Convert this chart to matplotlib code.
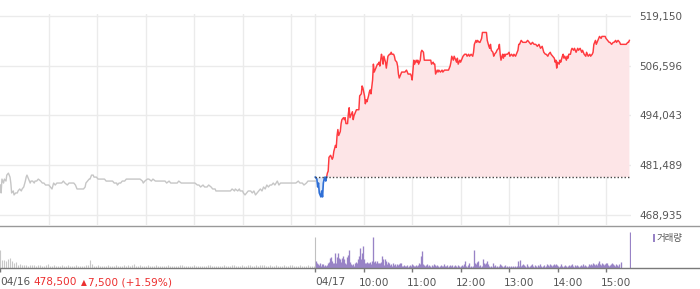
import matplotlib
matplotlib.use("Agg")
import matplotlib.pyplot as plt
import matplotlib.transforms as mtrans
from matplotlib.lines import Line2D
from matplotlib.patches import Rectangle
import numpy as np

plt.rcParams['font.family'] = ['DejaVu Sans', 'Noto Sans CJK KR']

# --- data (minutes since 04/16 09:00 on a compressed two-session axis) ---
prev_close = 478500

day1_min = [0, 1, 2, 4, 5, 7, 8, 10, 12, 13, 14, 16, 17, 19, 21, 22, 24, 26, 27, 29,
            31, 32, 33, 35, 37, 38, 40, 42, 43, 45, 47, 50, 52, 54, 56, 58, 60, 62, 64, 66,
            68, 70, 72, 74, 76, 78, 80, 83, 85, 87, 89, 91, 93, 95, 97, 99, 101, 103, 105, 106,
            108, 110, 111, 113, 115, 116, 119, 121, 124, 126, 129, 131, 134, 136, 139, 141, 144, 145, 147, 149,
            151, 154, 156, 158, 161, 163, 166, 168, 171, 173, 176, 177, 179, 182, 184, 187, 189, 192, 194, 196,
            199, 201, 204, 206, 209, 211, 214, 216, 219, 221, 224, 226, 229, 231, 234, 236, 239, 241, 244, 246,
            248, 251, 253, 256, 258, 261, 263, 266, 267, 270, 272, 275, 277, 280, 282, 285, 287, 290, 291, 294,
            296, 297, 300, 301, 303, 305, 307, 310, 312, 314, 316, 318, 320, 322, 324, 326, 328, 330, 332, 334,
            336, 338, 340, 343, 345, 347, 349, 352, 354, 357, 359, 361, 364, 366, 369, 371, 374, 376, 379, 381,
            384, 386, 389, 390]
day1_price = [476500, 474500, 478000, 477000, 478000, 477500, 479000, 479500, 478500, 477000,
              474500, 475000, 474000, 474500, 474500, 475000, 475500, 475000, 475500, 476000,
              477500, 478500, 479000, 478000, 477000, 477500, 477500, 477000, 477500, 477500,
              478000, 477500, 477000, 477000, 476500, 476500, 476500, 476000, 475500, 477000,
              476500, 477000, 477000, 477000, 477000, 477500, 477000, 476500, 477000, 477000,
              477000, 477000, 476500, 475500, 475500, 475500, 475500, 475500, 476000, 477000,
              477500, 478000, 478000, 479000, 479000, 478500, 478500, 478000, 478000, 478000,
              478000, 477500, 477500, 477500, 477500, 477000, 477000, 476500, 477000, 477000,
              477500, 477500, 478000, 478000, 478000, 478000, 478000, 478000, 478000, 478000,
              477500, 477000, 477500, 478000, 478000, 477500, 478000, 477500, 477500, 477500,
              477500, 477500, 477500, 477000, 477500, 477000, 477000, 477000, 477000, 477500,
              477000, 477000, 477000, 477000, 477000, 477000, 477000, 477000, 476500, 476500,
              476000, 476500, 476000, 476000, 476500, 476000, 475500, 475500, 475000, 475000,
              475000, 475000, 475000, 475000, 475000, 475000, 475500, 475000, 475500, 475000,
              475500, 475000, 475000, 474500, 474000, 474500, 475000, 475000, 474500, 475000,
              474000, 474500, 475000, 475500, 475000, 476000, 475500, 476500, 476000, 476500,
              476500, 477000, 476500, 477500, 476500, 477000, 477000, 477000, 477000, 477000,
              477000, 477000, 477000, 477000, 477500, 477000, 477000, 476500, 477000, 477500,
              477500, 477500, 477500, 477500]

day2_min = [390, 392, 393, 394, 395, 397, 398, 399, 400, 401, 402, 403, 404, 405, 406, 407, 409, 411, 412, 413,
            415, 416, 417, 418, 419, 421, 422, 423, 425, 426, 427, 428, 430, 431, 432, 433, 435, 436, 437, 438,
            440, 441, 442, 444, 445, 447, 448, 449, 451, 452, 453, 454, 456, 457, 458, 459, 461, 462, 463, 464,
            466, 467, 468, 469, 470, 472, 473, 474, 475, 477, 478, 479, 480, 482, 483, 484, 485, 487, 488, 489,
            491, 492, 493, 494, 496, 497, 499, 501, 503, 504, 505, 506, 508, 509, 510, 511, 512, 513, 515, 516,
            517, 518, 520, 521, 522, 524, 525, 527, 529, 531, 533, 534, 536, 537, 538, 539, 541, 542, 543, 545,
            547, 548, 550, 552, 553, 555, 557, 558, 559, 561, 562, 564, 565, 566, 567, 569, 570, 572, 573, 575,
            577, 578, 580, 581, 583, 585, 586, 587, 589, 590, 591, 593, 594, 596, 597, 599, 600, 602, 603, 605,
            606, 607, 608, 610, 611, 612, 614, 615, 617, 618, 619, 620, 622, 623, 624, 625, 626, 628, 630, 631,
            633, 635, 636, 638, 640, 641, 642, 643, 645, 647, 648, 651, 653, 655, 657, 659, 661, 663, 665, 667,
            669, 671, 673, 675, 676, 678, 679, 681, 682, 684, 686, 687, 688, 689, 690, 692, 693, 694, 696, 697,
            698, 699, 701, 702, 703, 704, 706, 707, 708, 710, 711, 713, 715, 716, 718, 720, 721, 723, 725, 726,
            728, 730, 731, 733, 734, 735, 737, 738, 739, 740, 742, 744, 745, 747, 749, 750, 752, 754, 755, 757,
            759, 760, 762, 763, 765, 767, 768, 770, 772, 775, 777, 778, 779]
day2_price = [478500, 478000, 476000, 477000, 474500, 473500, 475000, 473500, 477000, 478000,
              478500, 477500, 478500, 479500, 480000, 483500, 484000, 483000, 483500, 485000,
              486500, 486000, 489000, 490500, 489000, 490000, 492000, 493000, 493500, 493000,
              493500, 492000, 492000, 494500, 496000, 493500, 494500, 495000, 493000, 494000,
              495000, 495500, 495500, 495500, 499000, 499500, 501500, 501000, 499000, 497000,
              498000, 497500, 499000, 500000, 500500, 499500, 503000, 507000, 505000, 505500,
              506500, 507000, 507000, 507500, 506500, 509500, 508500, 507000, 509000, 507500,
              506000, 507500, 509000, 509500, 509500, 510000, 509500, 509500, 509000, 508000,
              507500, 506500, 504500, 503500, 504500, 505000, 505000, 505000, 505500, 505000,
              504500, 504500, 504500, 504000, 503000, 505500, 508000, 507000, 508000, 507500,
              508000, 507000, 508000, 510000, 510500, 510000, 508000, 508000, 508000, 508000,
              508000, 507000, 507500, 507000, 507000, 504500, 505500, 505000, 505500, 505000,
              505500, 505000, 505500, 505500, 505500, 505500, 506500, 507500, 509000, 508000,
              509000, 508000, 507500, 508500, 507000, 508000, 507500, 508500, 509000, 509500,
              509500, 509000, 509500, 509000, 509500, 509000, 510000, 512000, 513000, 512500,
              513000, 512500, 512500, 513500, 515000, 515000, 515000, 515000, 513000, 511500,
              511000, 512000, 510500, 510000, 509000, 509500, 510000, 510500, 511000, 512000,
              509500, 508000, 509500, 508500, 509500, 509000, 509500, 509500, 510000, 509000,
              509500, 509000, 509500, 509000, 510000, 510500, 512000, 512000, 513000, 512500,
              512500, 512500, 513000, 512500, 512000, 512500, 512000, 512000, 511500, 512000,
              511000, 511500, 510000, 509500, 509500, 509000, 509500, 510000, 509500, 509000,
              508500, 507500, 508000, 506000, 507500, 507000, 508000, 507500, 509000, 509500,
              508500, 509000, 508000, 509000, 508500, 509500, 509500, 510500, 511000, 510500,
              511000, 510000, 511000, 510500, 511000, 510000, 510500, 509500, 509000, 510000,
              509000, 509500, 509000, 509500, 510000, 512000, 513000, 512000, 512500, 513000,
              514000, 513500, 514000, 514000, 514000, 513500, 513000, 512500, 512500, 512000,
              512500, 512500, 513000, 512500, 513000, 512500, 512000, 512000, 512000, 512000,
              512500, 512500, 513000]

# volume (shares), continuous session bars
day1_vol = [5500, 2300, 2500, 2000, 2700, 3000, 2000, 1500, 1700, 1000, 1300, 1000, 800, 900, 700, 1000, 800, 900, 700, 800,
            1000, 700, 600, 800, 1300, 700, 600, 800, 700, 600, 700, 800, 600, 700, 900, 600, 700, 600, 800, 700,
            600, 700, 600, 800, 900, 2300, 1200, 700, 600, 800, 700, 600, 700, 600, 800, 700, 600, 700, 800, 600,
            700, 600, 800, 700, 900, 600, 1000, 1100, 700, 600, 800, 700, 600, 700, 800, 600, 700, 600, 800, 700,
            600, 500, 700, 600, 800, 700, 600, 500, 700, 600, 800, 900, 700, 600, 500, 700, 600, 800, 700, 600,
            700, 600, 500, 700, 900, 800, 600, 700, 600, 500, 700, 600, 800, 700, 600, 700, 800, 1000, 700, 600,
            700, 800, 600, 700, 900, 800, 700, 600, 800, 700, 900, 1000, 800, 700, 600, 800, 700, 600, 800, 700,
            600, 700, 800, 600, 700, 900, 800, 700, 600, 700, 800, 600, 700, 600, 800, 700, 600, 700]
day1_close_vol = 9300

day2_vol = [2100, 1600, 1100, 800, 1400, 600, 1100, 1100, 600, 800, 600, 800, 1600, 1800, 3100, 3400, 2100, 1600, 1400, 4600,
            1600, 3400, 4600, 3100, 2600, 1800, 3100, 3600, 2600, 1600, 1100, 3400, 3800, 5400, 1800, 1100, 800, 1100, 600, 1600,
            1800, 1400, 2800, 3600, 6100, 2800, 4600, 6600, 2800, 1600, 1400, 1800, 1600, 1400, 1800, 1100, 2100, 9300, 1800, 2100,
            1600, 2100, 1600, 1400, 1600, 1800, 3600, 2800, 800, 2600, 2100, 1100, 1800, 1600, 800, 1100, 600, 1400, 800, 1100,
            600, 1100, 800, 1100, 1400, 1600, 600, 600, 800, 600, 600, 800, 400, 600, 800, 600, 1100, 800, 600, 600,
            800, 600, 800, 1400, 1100, 3600, 5100, 1100, 800, 600, 800, 1100, 600, 800, 600, 400, 800, 600, 1100, 800,
            600, 800, 600, 400, 600, 800, 600, 600, 1100, 600, 600, 800, 400, 600, 800, 600, 800, 400, 600, 800,
            600, 400, 800, 600, 400, 600, 800, 600, 1100, 2100, 600, 400, 800, 1600, 400, 600, 400, 600,
            5400, 1600, 1100, 1800, 2100, 600, 800, 400, 600, 2600, 1400, 1100, 1600, 2100, 1100, 600, 400, 600, 400, 1400,
            600, 800, 400, 600, 400, 600, 1100, 800, 600, 400, 600, 800, 400, 600, 400, 600, 400, 600, 400, 600,
            400, 600, 400, 600, 2100, 600, 2400, 600, 800, 1100, 800, 600, 400, 1100, 600, 400, 600, 800, 1100, 600,
            400, 800, 600, 400, 800, 600, 1100, 600, 400, 600, 800, 400, 600, 1100, 800, 600, 1100, 800, 600, 800,
            1100, 800, 1100, 800, 600, 400, 600, 1100, 600, 400, 600, 800, 600, 400, 600, 800, 600, 800, 1100, 600,
            400, 800, 600, 800, 600, 400, 600, 800, 600, 1100, 600, 800, 600, 400, 600, 1100, 800, 1100, 800, 1400,
            1100, 800, 1100, 800, 1400, 2100, 1100, 800, 1400, 1100, 800, 1100, 1400, 1400, 800, 600, 800, 1100, 1400, 1100,
            800, 600, 1100, 800, 600, 1100, 1800]
day2_close_vol = 10800

y_ticks = [468935, 481489, 494043, 506596, 519150]
date_ticks = [0, 390]
date_labels = ['04/16', '04/17']
time_ticks = [450, 510, 570, 630, 690, 750]
time_labels = ['10:00', '11:00', '12:00', '13:00', '14:00', '15:00']
grid_x = [60, 120, 180, 240, 300, 360, 390, 450, 510, 570, 630, 690, 750]

W, H = 700, 289
fig = plt.figure(figsize=(7, 2.89), dpi=100)


def fx(px):
    return px / W


def fy(py):
    return 1 - py / H


xlim = (-0.4, 781)

# price panel
ax = fig.add_axes([0, fy(225), fx(631), (225 - 14) / H])
ax.set_xlim(*xlim)
ax.set_ylim(466412, 519655)
for s in ax.spines.values():
    s.set_visible(False)
ax.set_xticks(grid_x)
ax.set_yticks(y_ticks)
ax.set_yticklabels([f"{v:,}" for v in y_ticks])
ax.yaxis.tick_right()
ax.tick_params(axis='x', length=0, labelbottom=False)
ax.tick_params(axis='y', length=0, pad=6, labelsize=7.5, labelcolor='#555555')
ax.grid(True, color='#ebebeb', lw=1)
ax.set_axisbelow(True)

ax.plot(day1_min, day1_price, color='#c6c6c6', lw=1)

d2m = np.array(day2_min)
d2p = np.array(day2_price)
ax.fill_between(d2m, d2p, prev_close, where=d2p >= prev_close, interpolate=True,
                color='#fde5e7', lw=0)
ax.fill_between(d2m, d2p, prev_close, where=d2p <= prev_close, interpolate=True,
                color='#dce8f8', lw=0)
ax.plot(d2m[12:], d2p[12:], color='#ff3a3f', lw=1.05)
ax.plot(d2m[:13], d2p[:13], color='#2f6fd6', lw=1.2)
ax.hlines(prev_close, 390, xlim[1], colors='#444444', linestyles=(0, (1, 1.5)), lw=1)

# volume panel
axv = fig.add_axes([0, fy(268), fx(631), (268 - 226) / H])
axv.set_xlim(*xlim)
axv.set_ylim(0, 12600)
for s in axv.spines.values():
    s.set_visible(False)
axv.set_yticks([])
axv.set_xticks(date_ticks + time_ticks)
axv.set_xticklabels([])
axv.tick_params(axis='x', length=3, width=1, color='#777777', direction='out')

t1 = np.linspace(0, 388, len(day1_vol))
axv.vlines(t1, 0, day1_vol, colors='#c8c8c8', lw=0.8)
axv.vlines([390], 0, [day1_close_vol], colors='#c0c0c0', lw=0.8)
t2 = np.linspace(390.5, 768, len(day2_vol))
axv.vlines(t2, 0, day2_vol, colors='#9883c6', lw=0.95)
axv.vlines([779.6], 0, [day2_close_vol], colors='#9883c6', lw=0.9)

# full-width separator lines
fig.add_artist(Line2D([0, 1], [fy(225.5), fy(225.5)], color='#999999', lw=1))
fig.add_artist(Line2D([0, 1], [fy(268.3), fy(268.3)], color='#7a7a7a', lw=1))

# legend
fig.add_artist(Rectangle((fx(652.7), fy(241.5)), fx(2.6), 7.5 / H, color='#9883c6', lw=0))
fig.text(fx(657), fy(238), '거래량', va='center', ha='left', fontsize=6.8, color='#555555')

# bottom labels
trans = mtrans.blended_transform_factory(axv.transData, fig.transFigure)
ty = fy(282.5)
for m, lab in zip(date_ticks, date_labels):
    axv.text(m, ty, lab, transform=trans, ha='left', va='center', fontsize=7.6, color='#555555')
for m, lab in zip(time_ticks, time_labels):
    axv.text(m - 6.2, ty, lab, transform=trans, ha='left', va='center', fontsize=7.6, color='#555555')

fig.text(fx(33), ty, '478,500', ha='left', va='center', fontsize=7.6, color='#ec2f2f')
fig.text(fx(80.5), ty, '▲', ha='left', va='center', fontsize=5.5, color='#ec2f2f')
fig.text(fx(88), ty, '7,500 (+1.59%)', ha='left', va='center', fontsize=7.6, color='#ec2f2f')

fig.savefig('out.png', dpi=100)
